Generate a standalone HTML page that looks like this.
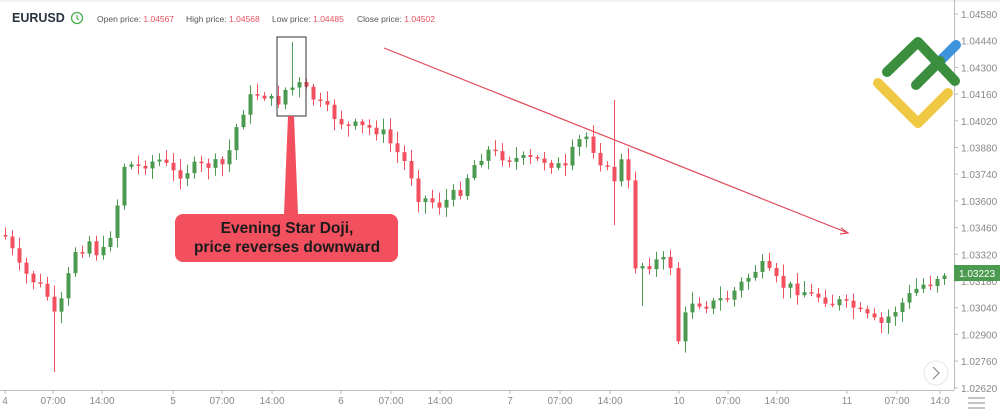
<!DOCTYPE html>
<html><head><meta charset="utf-8"><style>
html,body{margin:0;padding:0;background:#fff;width:1000px;height:413px;overflow:hidden;font-family:"Liberation Sans",sans-serif}
</style></head><body>
<svg id="s" width="1000" height="413" xmlns="http://www.w3.org/2000/svg" font-family="Liberation Sans, sans-serif">
<rect width="1000" height="413" fill="#fff"/>
<line x1="0" y1="1" x2="1000" y2="1" stroke="#e4e4e4"/>
<text x="12" y="22" font-size="12.5" font-weight="bold" fill="#2a3340">EURUSD</text>
<circle cx="77" cy="18" r="5.5" fill="none" stroke="#4caf50" stroke-width="1.3"/>
<path d="M77 15v3.5l2 1.5" fill="none" stroke="#4caf50" stroke-width="1.2"/>
<text y="22" font-size="8.5" fill="#555"><tspan x="97">Open price: </tspan><tspan fill="#e4505e">1.04567</tspan><tspan x="186">High price: </tspan><tspan fill="#e4505e">1.04568</tspan><tspan x="272">Low price: </tspan><tspan fill="#e4505e">1.04485</tspan><tspan x="357">Close price: </tspan><tspan fill="#e4505e">1.04502</tspan></text>
<line x1="954.5" y1="0" x2="954.5" y2="390" stroke="#bbb"/>
<line x1="0" y1="390.5" x2="954" y2="390.5" stroke="#bbb"/>
<g id="ax" font-size="10" fill="#888"></g>
<g id="c"></g>
<rect x="277" y="37" width="29" height="79" fill="none" stroke="#333" stroke-width="1"/>
<line x1="384" y1="48" x2="848" y2="233" stroke="#e0485a" stroke-width="1.2"/>
<path d="M841 228l7 5-8 1" fill="none" stroke="#e0485a" stroke-width="1.2"/>
<path d="M288 116h6l4 98h-14z" fill="#f2505e"/>
<rect x="175" y="214" width="223" height="48" rx="8" fill="#f2505e"/>
<text x="287" y="233" font-size="15.5" font-weight="bold" text-anchor="middle" fill="#1b1b1b">Evening Star Doji,</text>
<text x="287" y="252" font-size="15.5" font-weight="bold" text-anchor="middle" fill="#1b1b1b">price reverses downward</text>
<g stroke-linecap="round" stroke-linejoin="round" stroke-width="10" fill="none">
<path d="M878 83l40 40 30-30" stroke="#efc844"/>
<path d="M940 61l16-16" stroke="#3d94dc"/>
<path d="M887 72l31-30 37 39M916 85l24-24" stroke="#3b8e3e"/>
</g>
<rect x="954" y="265" width="46" height="16" fill="#4b9a4f"/>
<text x="959" y="277" font-size="10" fill="#fff">1.03223</text>
<circle cx="936" cy="373" r="12" fill="#fff" stroke="#e6e6e6"/>
<path d="M933 367l6 6-6 6" fill="none" stroke="#888" stroke-width="1.2"/>
<g stroke="#888"><line x1="968" y1="398" x2="985" y2="398"/><line x1="968" y1="403" x2="985" y2="403"/><line x1="968" y1="408" x2="985" y2="408"/></g>
</svg>
<script>
var ns="http://www.w3.org/2000/svg",ax=document.getElementById('ax'),cg=document.getElementById('c');
function el(p,t,a,txt){var e=document.createElementNS(ns,t);for(var k in a)e.setAttribute(k,a[k]);if(txt)e.textContent=txt;p.appendChild(e);return e;}
var v=["1.04580","1.04440","1.04300","1.04160","1.04020","1.03880","1.03740","1.03600","1.03460","1.03320","1.03180","1.03040","1.02900","1.02760","1.02620"];
for(var i=0;i<v.length;i++){var y=14+i*26.7;el(ax,'text',{x:961,y:y+4},v[i]);el(ax,'line',{x1:954,y1:y,x2:958,y2:y,stroke:'#bbb'});}
var xl=[[5,"4"],[53,"07:00"],[102,"14:00"],[173,"5"],[222,"07:00"],[272,"14:00"],[341,"6"],[391,"07:00"],[440,"14:00"],[510,"7"],[560,"07:00"],[610,"14:00"],[679,"10"],[728,"07:00"],[777,"14:00"],[847,"11"],[897,"07:00"],[940,"14:0"]];
xl.forEach(function(a){el(ax,'text',{x:a[0],y:404,'text-anchor':'middle'},a[1]);el(ax,'line',{x1:a[0],y1:390,x2:a[0],y2:394,stroke:'#bbb'});});
var K=[[5,235],[20,270],[45,290],[55,320],[62,300],[75,250],[90,240],[100,260],[115,220],[122,165],[135,165],[160,160],[175,175],[200,165],[225,165],[232,140],[240,115],[255,90],[265,95],[275,105],[285,90],[300,85],[320,105],[345,125],[380,130],[395,150],[410,170],[415,195],[440,205],[460,190],[470,170],[485,150],[500,155],[520,160],[545,160],[565,170],[575,145],[585,135],[600,160],[615,180],[625,150],[635,265],[645,265],[660,260],[670,265],[678,340],[690,300],[710,305],[730,295],[760,265],[780,285],[800,290],[830,300],[850,305],[870,320],[880,325],[900,305],[915,290],[930,280],[945,272]];
function yAt(x){for(var i=0;i<K.length-1;i++){if(x<=K[i+1][0]){var t=(x-K[i][0])/(K[i+1][0]-K[i][0]);return K[i][1]+t*(K[i+1][1]-K[i][1]);}}return K[K.length-1][1];}
var seed=7;function r(){seed=(seed*9301+49297)%233280;return seed/233280;}
var prev=yAt(5),x=5;
while(x<=946){if(x>670&&x<678)x=678;var c=yAt(x)+(r()-0.5)*12,o=prev;if(Math.abs(c-o)<1.5)c=o+1.5;
var hi=Math.min(o,c)-2-r()*10,lo=Math.max(o,c)+2+r()*10;
if(Math.abs(x-292)<4){hi=42;}if(Math.abs(x-614)<4){hi=100;lo=225;}if(Math.abs(x-55)<4){lo=372;}if(Math.abs(x-643)<4){lo=306;}
var col=c<o?'#4b9a4f':'#f2505e';
el(cg,'line',{x1:x+0.5,y1:hi,x2:x+0.5,y2:lo,stroke:col,'stroke-width':1});
el(cg,'rect',{x:x-1.5,y:Math.min(o,c),width:4,height:Math.abs(c-o),fill:col});
prev=c;x+=7;}
</script>
</body></html>
